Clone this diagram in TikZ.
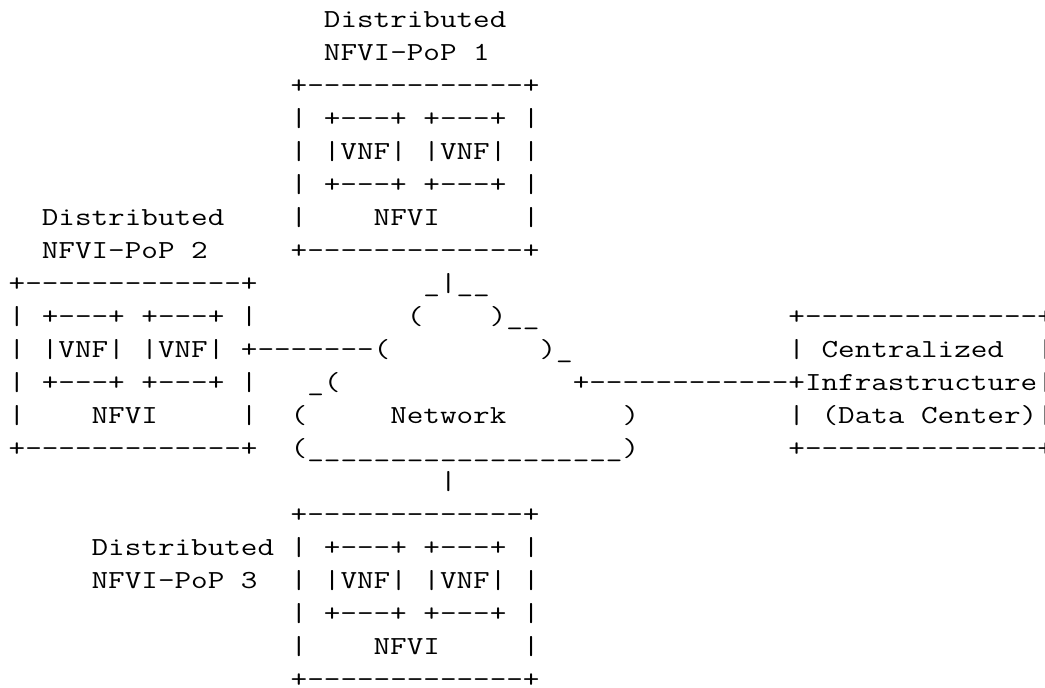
\documentclass[tikz,border=0pt]{standalone}
\usepackage{graphicx}
\usepackage{tikz}
\tikzset{asciirow/.style={anchor=base west, inner sep=0pt, outer sep=0pt,
  font=\fontsize{13}{13}\selectfont\ttfamily}}
\newcommand{\widen}[1]{\scalebox{1.239}[1]{#1}}

\begin{document}
\begin{tikzpicture}[x=0.5pt,y=-0.5pt]
\useasboundingbox (0,0) rectangle (1045,687);
\clip (0,0) rectangle (1045,687);
% one node per text line, 33px apart
\foreach \r/\txt in {
0/{~~~~~~~~~~~~~~~~~~~Distributed},
1/{~~~~~~~~~~~~~~~~~~~NFVI-PoP~1},
2/{~~~~~~~~~~~~~~~~~+-------------+},
3/{~~~~~~~~~~~~~~~~~|~+---+~+---+~|},
4/{~~~~~~~~~~~~~~~~~|~|VNF|~|VNF|~|},
5/{~~~~~~~~~~~~~~~~~|~+---+~+---+~|},
6/{~~Distributed~~~~|~~~~NFVI~~~~~|},
7/{~~NFVI-PoP~2~~~~~+-------------+},
8/{+-------------+~~~~~~~~~~\_|\_\_},
9/{|~+---+~+---+~|~~~~~~~~~(~~~~)\_\_~~~~~~~~~~~~~~~+--------------+},
10/{|~|VNF|~|VNF|~+-------(~~~~~~~~~)\_~~~~~~~~~~~~~|~Centralized~~|},
11/{|~+---+~+---+~|~~~\_(~~~~~~~~~~~~~~+------------+Infrastructure|},
12/{|~~~~NFVI~~~~~|~~(~~~~~Network~~~~~~~)~~~~~~~~~|~(Data~Center)|},
13/{+-------------+~~(\_\_\_\_\_\_\_\_\_\_\_\_\_\_\_\_\_\_\_)~~~~~~~~~+--------------+},
14/{~~~~~~~~~~~~~~~~~~~~~~~~~~|},
15/{~~~~~~~~~~~~~~~~~+-------------+},
16/{~~~~~Distributed~|~+---+~+---+~|},
17/{~~~~~NFVI-PoP~3~~|~|VNF|~|VNF|~|},
18/{~~~~~~~~~~~~~~~~~|~+---+~+---+~|},
19/{~~~~~~~~~~~~~~~~~|~~~~NFVI~~~~~|},
20/{~~~~~~~~~~~~~~~~~+-------------+}
}{
\node[asciirow] (row\r) at (8.7,{27.5+33*\r}) {\widen{\txt}};
}
\end{tikzpicture}
\end{document}
